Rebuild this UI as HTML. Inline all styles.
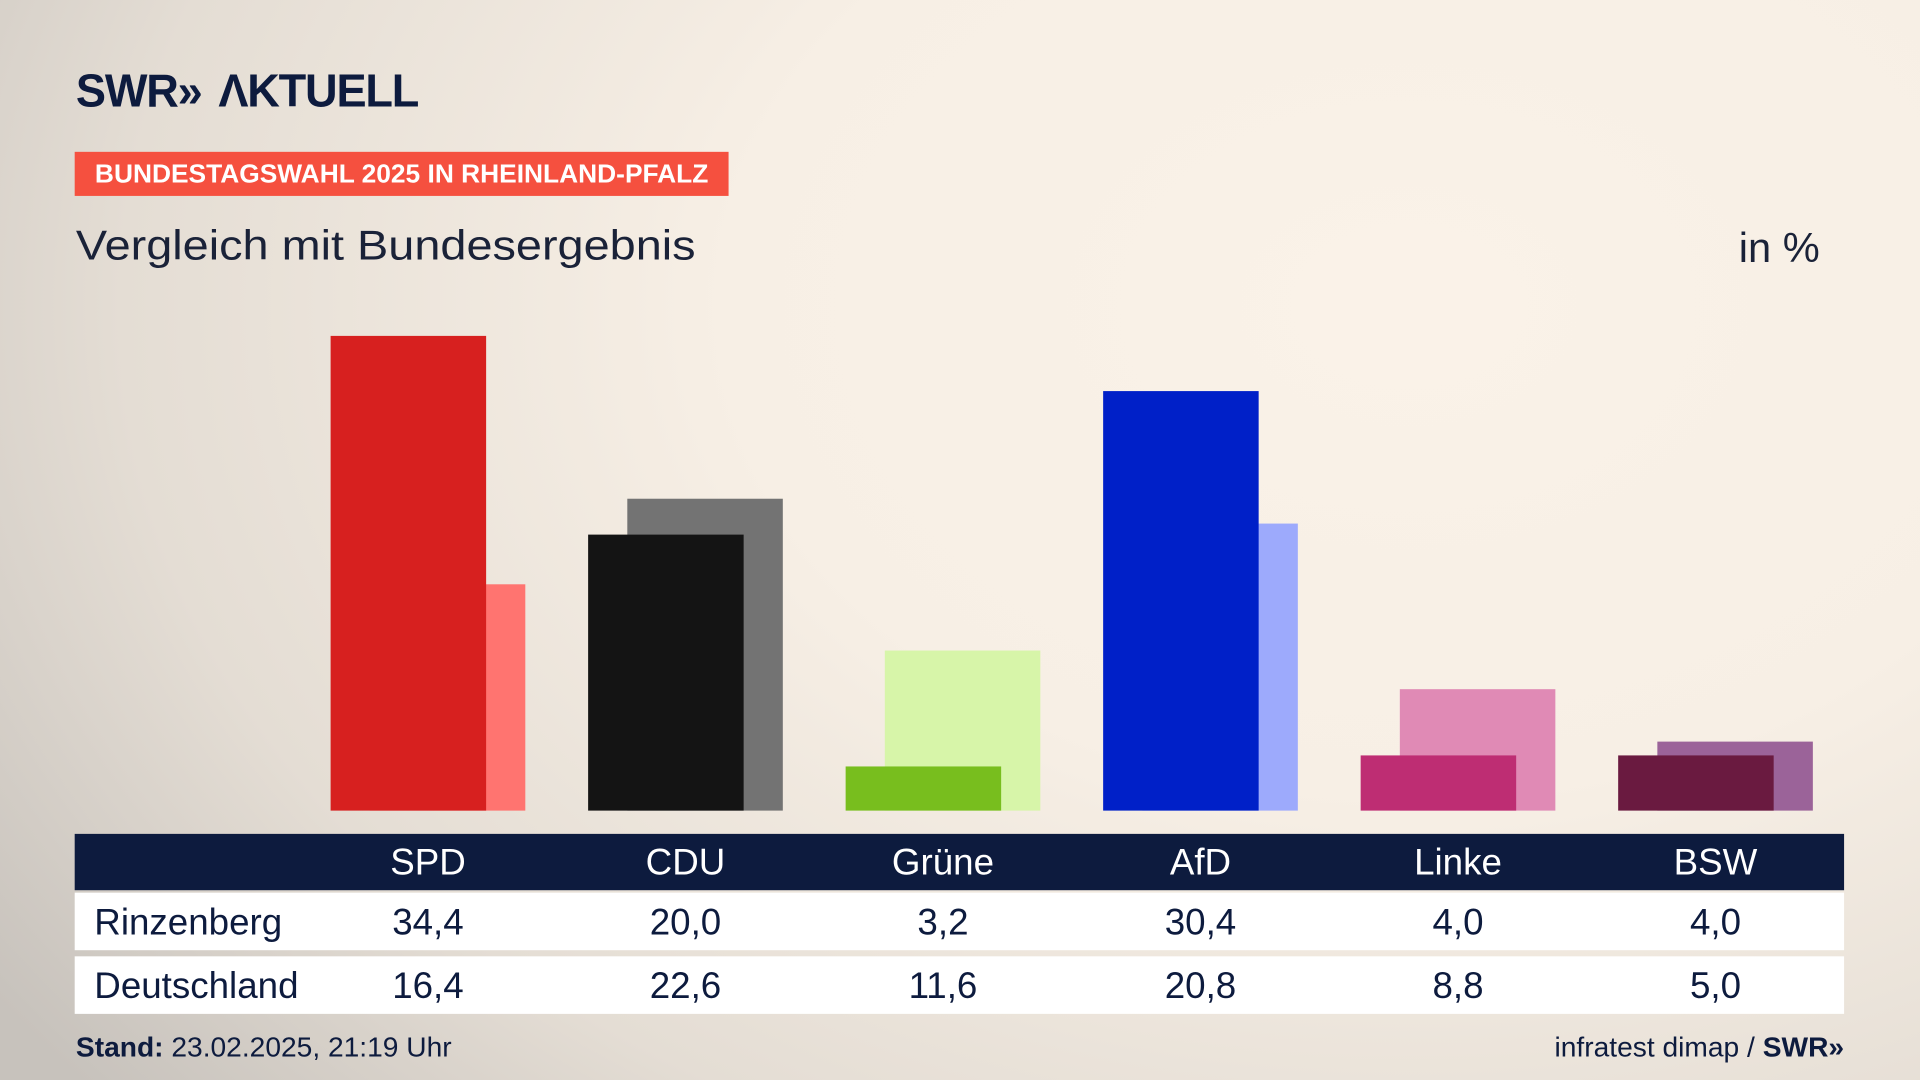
<!DOCTYPE html>
<html><head><meta charset="utf-8">
<style>
html,body{margin:0;padding:0;width:1920px;height:1080px;overflow:hidden}
#stage{position:absolute;left:0;top:0;width:1568px;height:882px;transform:scale(1.2244898);transform-origin:0 0;
background:radial-gradient(ellipse 1400px 1000px at 1150px 250px,#faf2e8 0%,#f7efe5 40%,#e4ddd4 75%,#c7c2bc 100%);
font-family:"Liberation Sans","DejaVu Sans",sans-serif;color:#0d1b3e}
.abs{position:absolute}
#logo{left:62px;top:54px;font-size:38px;font-weight:bold;letter-spacing:-1px;transform:scaleX(0.97);transform-origin:0 0;white-space:nowrap}
#badge{left:61px;top:124px;width:534px;height:36px;background:#f5503f;color:#fff;font-weight:bold;font-size:21.5px;line-height:37px;text-align:center;white-space:nowrap}
#title{left:62px;top:182px;font-size:34px;color:#1a2238;transform:scaleX(1.125);transform-origin:0 0;white-space:nowrap}
#unit{left:1420px;top:184px;font-size:34px;color:#1a2238}
#thead{left:61px;top:681px;width:1445px;height:46px;background:#0d1b3e}
.row{left:61px;width:1445px;height:47px;background:#fff}
.cell{position:absolute;font-size:30px;width:160px;text-align:center;transform:translateX(-80px)}
.rl{position:absolute;left:16px;font-size:30px}
#stand{left:62px;top:842px;font-size:23px}
#src{right:62px;top:842px;font-size:23px}
</style></head><body>
<div id="stage">
<div id="logo" class="abs">SWR<span style="letter-spacing:-6px">»</span>&nbsp; ΛKTUELL</div>
<div id="badge" class="abs">BUNDESTAGSWAHL 2025 IN RHEINLAND-PFALZ</div>
<div id="title" class="abs">Vergleich mit Bundesergebnis</div>
<div id="unit" class="abs">in %</div>
<svg id="bars" class="abs" style="left:0;top:0" width="1568" height="882"></svg>
<div id="thead" class="abs"></div>
<div id="r1" class="abs row" style="top:729px"><span class="rl" style="top:8px">Rinzenberg</span></div>
<div id="r2" class="abs row" style="top:781px"><span class="rl" style="top:8px">Deutschland</span></div>
<div id="stand" class="abs"><b>Stand:</b> 23.02.2025, 21:19 Uhr</div>
<div id="src" class="abs">infratest dimap / <b>SWR»</b></div>
</div>
<script>
const parties=["SPD","CDU","Grüne","AfD","Linke","BSW"];
const local=[34.4,20.0,3.2,30.4,4.0,4.0];
const national=[16.4,22.6,11.6,20.8,8.8,5.0];
const darkColors=["#d7201f","#141414","#78be1e","#0020c8","#be2d73","#6a1a40"];
const lightColors=["#ff7470","#737373","#d7f5a9","#9daafc","#e08ab5","#9b6399"];
const baseY=662, pxPer=11.27, x0=270, step=210.3, bw=127, off=32;
const yScale=v=>baseY-v*pxPer;
const xScale=i=>x0+i*step;
const fmt=v=>v.toFixed(1).replace('.',',');
const svg=document.getElementById('bars');
const NS="http://www.w3.org/2000/svg";
parties.forEach((p,i)=>{
  const l=document.createElementNS(NS,'rect');
  l.setAttribute('x',xScale(i)+off);l.setAttribute('y',yScale(national[i]));
  l.setAttribute('width',bw);l.setAttribute('height',baseY-yScale(national[i]));l.setAttribute('fill',lightColors[i]);
  
  
  svg.appendChild(l);
  const d=document.createElementNS(NS,'rect');
  d.setAttribute('x',xScale(i));d.setAttribute('y',yScale(local[i]));
  d.setAttribute('width',bw);d.setAttribute('height',baseY-yScale(local[i]));d.setAttribute('fill',darkColors[i]);
  
  
  svg.appendChild(d);
  const cx=xScale(i)+(bw+off)/2-61;
  const h=document.createElement('span');h.className='cell';h.textContent=p;
  h.style.left=cx+'px';h.style.top='7px';h.style.color='#fff';
  
  
  document.getElementById('thead').appendChild(h);
  const a=document.createElement('span');a.className='cell';a.textContent=fmt(local[i]);
  a.style.left=cx+'px';a.style.top='8px';
  
  
  document.getElementById('r1').appendChild(a);
  const b=document.createElement('span');b.className='cell';b.textContent=fmt(national[i]);
  b.style.left=cx+'px';b.style.top='8px';
  
  
  document.getElementById('r2').appendChild(b);
});
</script>
</body></html>
